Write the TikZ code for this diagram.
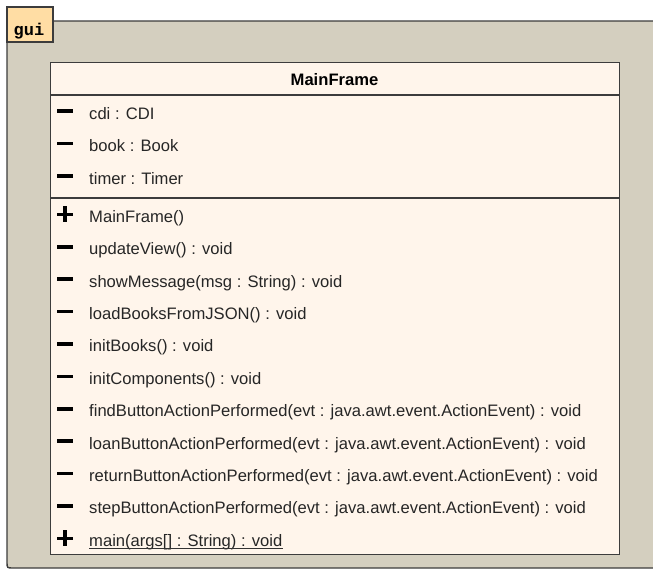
\documentclass[tikz,border=0pt]{standalone}
\usepackage{fontspec}
\setmainfont{Liberation Sans}
\newfontfamily\tabfont{Liberation Mono}
\definecolor{pkgfill}{RGB}{212,207,191}
\definecolor{tabfill}{RGB}{255,221,164}
\definecolor{clsfill}{RGB}{255,245,235}
\definecolor{edge}{RGB}{60,60,60}
\tikzset{
  pkgline/.style={draw=edge, line width=1.4pt, fill=pkgfill},
  tabbox/.style={draw=edge, line width=1.4pt, fill=tabfill, minimum width=46pt, minimum height=35pt, inner sep=0pt},
  tabtext/.style={anchor=base, inner sep=0pt, font=\tabfont\bfseries\fontsize{17}{20}\selectfont},
  classbox/.style={draw=edge, line width=1.4pt, fill=clsfill, minimum width=569pt, minimum height=492pt, inner sep=0pt, anchor=north west},
  sepline/.style={draw=edge, line width=1.2pt},
  member/.style={anchor=base west, inner sep=0pt, font=\fontsize{16.6}{20}\selectfont, text=black!85},
  titletext/.style={anchor=base, inner sep=0pt, font=\bfseries\fontsize{16.6}{20}\selectfont},
  minusbar/.style={fill=black, minimum width=16pt, minimum height=3.6pt, inner sep=0pt}
}
\begin{document}
\begin{tikzpicture}[x=1pt,y=-1pt]
\useasboundingbox (0,0) rectangle (653,570);
% package body
\path[pkgline] (7,21) -- (7,562) .. controls (7,568) .. (13,568) -- (700,568) -- (700,21) -- cycle;
\node[tabbox] (tab) at (30,24.5) {};
\node[tabtext] (tabname) at (29,35) {gui};
% class box
\node[classbox] (cls) at (50,62) {};
\draw[sepline] (cls.west |- 0,95) -- (cls.east |- 0,95);
\draw[sepline] (cls.west |- 0,198) -- (cls.east |- 0,198);
\node[titletext] (title) at (334.5,85) {MainFrame};
% attributes
\foreach \i/\t in {0/{cdi : CDI},1/{book : Book},2/{timer : Timer}}{
  \pgfmathsetmacro{\yy}{111+32.5*\i}
  \node[minusbar] (a\i m) at (65,\yy) {};
  \node[member] (a\i) at (89,\yy+8) {\t};
}
% operations
\foreach \i/\s/\t in {
 0/p/{MainFrame()},
 1/m/{updateView() : void},
 2/m/{showMessage(msg : String) : void},
 3/m/{loadBooksFromJSON() : void},
 4/m/{initBooks() : void},
 5/m/{initComponents() : void},
 6/m/{findButtonActionPerformed(evt : java.awt.event.ActionEvent) : void},
 7/m/{loanButtonActionPerformed(evt : java.awt.event.ActionEvent) : void},
 8/m/{returnButtonActionPerformed(evt : java.awt.event.ActionEvent) : void},
 9/m/{stepButtonActionPerformed(evt : java.awt.event.ActionEvent) : void},
 10/p/{main(args[] : String) : void}}{
  \pgfmathsetmacro{\yy}{214.3+32.4*\i}
  \node[minusbar] (o\i m) at (65,\yy) {};
  \if\s p
    \fill (63.2,\yy-8) rectangle (66.8,\yy+8);
  \fi
  \node[member] (o\i) at (89,\yy+8) {\t};
}
\draw[line width=1.1pt, black!80] ([yshift=-2.5pt]o10.base west) -- ([yshift=-2.5pt]o10.base east);
\end{tikzpicture}
\end{document}
